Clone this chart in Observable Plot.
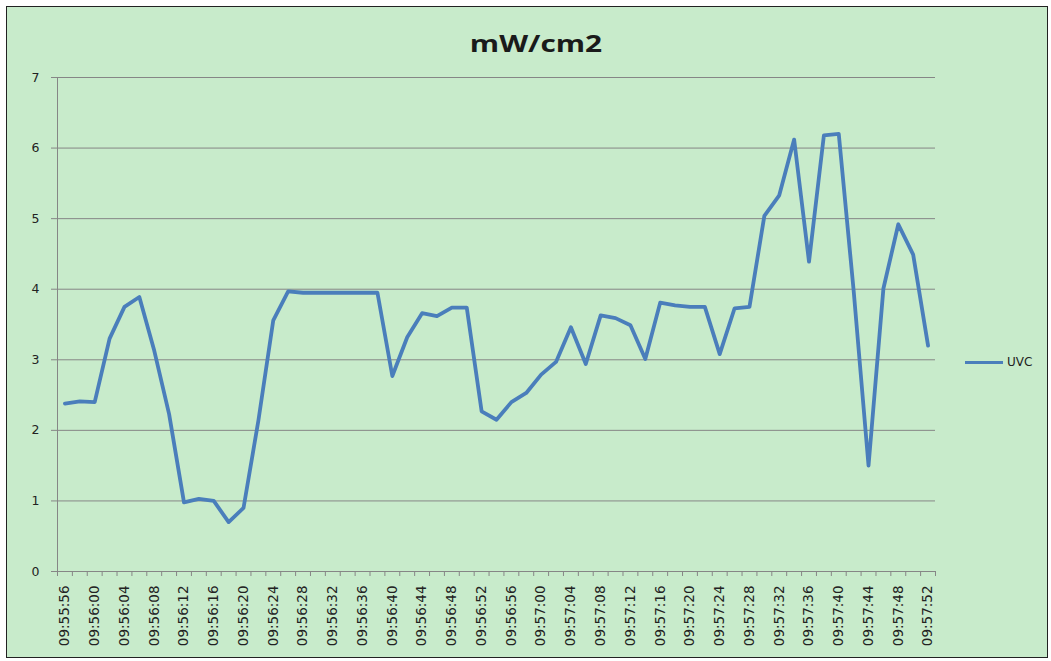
<!DOCTYPE html>
<html>
<head>
<meta charset="utf-8">
<script src="https://cdn.jsdelivr.net/npm/d3@7"></script>
<script src="https://cdn.jsdelivr.net/npm/@observablehq/plot@0.6"></script>
<style>
  html, body { margin: 0; padding: 0; background: #ffffff; }
  #chart { position: absolute; left: 6px; top: 6px; width: 1040px; height: 650px;
           border: 1px solid #222; background: #c8ebcb; overflow: hidden; }
  #title { position: absolute; left: 529px; top: 20px; transform: translateX(-50%) scaleX(1.3);
           font-family: "Open Sans", sans-serif; font-weight: bold; font-size: 23px; color: #1a1a1a; white-space: nowrap; }
  #legend { position: absolute; left: 958px; top: 348px; font-family: "DejaVu Sans", sans-serif;
            font-size: 12px; color: #222; white-space: nowrap; }
  #legend .sw { display: inline-block; width: 38px; height: 3px; background: #4a7ebb; vertical-align: middle; margin-right: 4px; }
  #plot { position: absolute; left: 0; top: 0; }
</style>
</head>
<body>
<div id="chart">
  <div id="plot"></div>
  <div id="title">mW/cm2</div>
  <div id="legend"><span class="sw"></span>UVC</div>
</div>
<script>
const times = [
  "09:55:56","09:55:58","09:56:00","09:56:02","09:56:04","09:56:06","09:56:08","09:56:10",
  "09:56:12","09:56:14","09:56:16","09:56:18","09:56:20","09:56:22","09:56:24","09:56:26",
  "09:56:28","09:56:30","09:56:32","09:56:34","09:56:36","09:56:38","09:56:40","09:56:42",
  "09:56:44","09:56:46","09:56:48","09:56:50","09:56:52","09:56:54","09:56:56","09:56:58",
  "09:57:00","09:57:02","09:57:04","09:57:06","09:57:08","09:57:10","09:57:12","09:57:14",
  "09:57:16","09:57:18","09:57:20","09:57:22","09:57:24","09:57:26","09:57:28","09:57:30",
  "09:57:32","09:57:34","09:57:36","09:57:38","09:57:40","09:57:42","09:57:44","09:57:46",
  "09:57:48","09:57:50","09:57:52"
];
const uvc = [
  2.38, 2.41, 2.40, 3.30, 3.75, 3.89, 3.13, 2.23,
  0.98, 1.03, 1.00, 0.70, 0.90, 2.14, 3.56, 3.97,
  3.95, 3.95, 3.95, 3.95, 3.95, 3.95, 2.77, 3.32,
  3.66, 3.62, 3.74, 3.74, 2.27, 2.15, 2.40, 2.53,
  2.79, 2.97, 3.46, 2.94, 3.63, 3.59, 3.49, 3.01,
  3.81, 3.77, 3.75, 3.75, 3.08, 3.73, 3.75, 5.04,
  5.33, 6.12, 4.39, 6.18, 6.20, 3.98, 1.50, 4.01,
  4.92, 4.49, 3.20
];
const yTicks = [0, 1, 2, 3, 4, 5, 6, 7];
const seriesName = "UVC";

const data = times.map((t, i) => ({i, t, v: uvc[i]}));
const boundaries = d3.range(times.length + 1).map(k => k - 0.5);
const labelIdx = d3.range(0, times.length, 2);

const chart = Plot.plot({
  width: 1040, height: 650,
  marginLeft: 50, marginTop: 70, marginRight: 112, marginBottom: 86,
  style: {background: "transparent", fontFamily: "DejaVu Sans, sans-serif", fontSize: "12px", color: "#222"},
  x: {type: "linear", domain: [-0.5, times.length - 0.5], axis: null},
  y: {domain: [0, 7], axis: null},
  marks: [
    Plot.gridY(yTicks, {stroke: "#868686", strokeOpacity: 1}),
    Plot.ruleX([-0.5], {stroke: "#868686"}),
    Plot.ruleY([0], {stroke: "#868686"}),
    Plot.axisY(yTicks, {tickSize: 6, tickPadding: 12, stroke: "#868686", fill: "#222", tickFormat: "d", label: null, fontSize: 12.5}),
    Plot.axisX(boundaries, {tickSize: 5, tickFormat: () => "", stroke: "#868686", label: null}),
    Plot.axisX(labelIdx, {tickSize: 0, tickRotate: -90, tickPadding: 14, tickFormat: i => times[i], fill: "#222", label: null, fontSize: 13.5}),
    Plot.line(data, {x: "i", y: "v", stroke: "#4a7ebb", strokeWidth: 3.8, strokeLinejoin: "round"})
  ]
});
document.getElementById("plot").appendChild(chart);
</script>
</body>
</html>
